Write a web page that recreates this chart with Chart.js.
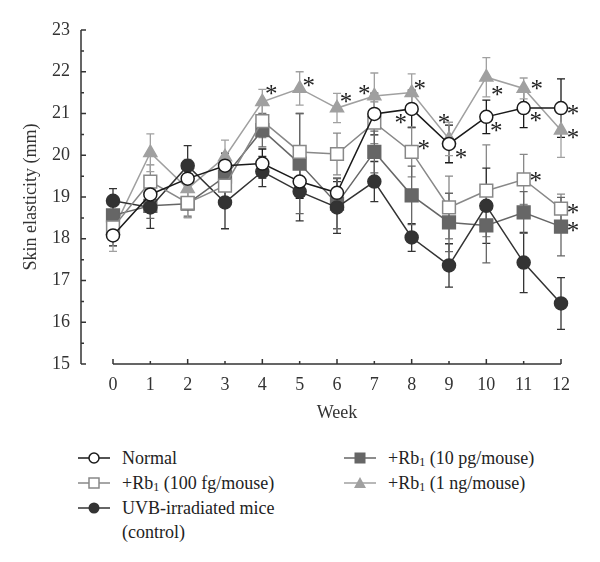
<!DOCTYPE html>
<html>
<head>
<meta charset="utf-8">
<script src="https://cdn.jsdelivr.net/npm/chart.js@4/dist/chart.umd.min.js"></script>
<style>
	body { margin: 0; background: #fff; }
	#wrap { position: relative; width: 600px; height: 562px; }
	#box { position: absolute; left: 0; top: 0; width: 600px; height: 430px; }
	.item { position: absolute; font-family: 'Liberation Serif', serif; font-size: 18px; color: #222; white-space: nowrap; line-height: 24px; }
	.item svg { position: absolute; left: -44px; top: 5px; }
	sub { font-size: 12px; vertical-align: -2px; line-height: 0; }
</style>
</head>
<body>
<div id="wrap">
	<div id="box"><canvas id="chart"></canvas></div>
	<div class="item" style="left:122px;top:446px;">
		<svg width="34" height="14"><line x1="0" y1="7" x2="32" y2="7" stroke="#1a1a1a" stroke-width="1.5"/><circle cx="16" cy="7" r="5" fill="#fff" stroke="#1a1a1a" stroke-width="1.5"/></svg>Normal</div>
	<div class="item" style="left:122px;top:471px;">
		<svg width="34" height="14"><line x1="0" y1="7" x2="32" y2="7" stroke="#888" stroke-width="1.5"/><rect x="11" y="2" width="10" height="10" fill="#fff" stroke="#888" stroke-width="1.5"/></svg>+Rb<sub>1</sub> (100 fg/mouse)</div>
	<div class="item" style="left:122px;top:496px;">
		<svg width="34" height="14"><line x1="0" y1="7" x2="32" y2="7" stroke="#333" stroke-width="1.5"/><circle cx="16" cy="7" r="5.5" fill="#333"/></svg>UVB-irradiated mice<br>(control)</div>
	<div class="item" style="left:388px;top:446px;">
		<svg width="34" height="14"><line x1="0" y1="7" x2="32" y2="7" stroke="#666" stroke-width="1.5"/><rect x="10.5" y="1.5" width="11" height="11" fill="#666"/></svg>+Rb<sub>1</sub> (10 pg/mouse)</div>
	<div class="item" style="left:388px;top:471px;">
		<svg width="34" height="14"><line x1="0" y1="7" x2="32" y2="7" stroke="#a0a0a0" stroke-width="1.5"/><polygon points="16,1 22,12 10,12" fill="#a0a0a0"/></svg>+Rb<sub>1</sub> (1 ng/mouse)</div>
</div>
<script>
const weeks = [0, 1, 2, 3, 4, 5, 6, 7, 8, 9, 10, 11, 12];
const yTicks = [15, 16, 17, 18, 19, 20, 21, 22, 23];

const normal = [18.08, 19.06, 19.44, 19.75, 19.80, 19.37, 19.10, 20.99, 21.11, 20.27, 20.92, 21.13, 21.13];
const normalErr = [0.25, 0.35, 0.3, 0.3, 0.35, 0.4, 0.35, 0.5, 0.45, 0.45, 0.4, 0.47, 0.7];

const rb100fg = [18.27, 19.37, 18.86, 19.27, 20.82, 20.08, 20.03, 20.78, 20.08, 18.75, 19.15, 19.42, 18.72];
const rb100fgErr = [0.3, 0.4, 0.35, 0.35, 0.4, 0.92, 0.5, 0.5, 0.6, 0.75, 1.1, 0.6, 0.35];

const control = [18.91, 18.75, 19.75, 18.87, 19.61, 19.13, 18.75, 19.37, 18.03, 17.36, 18.79, 17.43, 16.45];
const controlErr = [0.29, 0.5, 0.48, 0.63, 0.36, 0.7, 0.62, 0.48, 0.33, 0.52, 0.9, 0.72, 0.62];

const rb10pg = [18.56, 18.79, 18.84, 19.49, 20.60, 19.80, 18.84, 20.08, 19.04, 18.39, 18.32, 18.63, 18.29];
const rb10pgErr = [0.25, 0.3, 0.3, 0.3, 0.4, 1.2, 0.6, 0.5, 0.7, 0.7, 0.9, 0.5, 0.7];

const rb1ng = [18.20, 20.06, 19.20, 19.96, 21.28, 21.60, 21.13, 21.42, 21.50, 20.39, 21.87, 21.60, 20.60];
const rb1ngErr = [0.5, 0.45, 0.7, 0.4, 0.3, 0.4, 0.35, 0.55, 0.45, 0.4, 0.47, 0.25, 0.65];

// weeks marked with * (p < 0.05), per series
const starsNormal = [8, 9, 10, 11, 12];
const stars100fg = [8, 11, 12];
const stars10pg = [12];
const stars1ng = [4, 5, 6, 7, 8, 9, 10, 11, 12];

// where each * sits relative to its point (px)
const starOffset = {
	normal: { 8: [-11, 10], 9: [12, 9], 10: [10, 10], 11: [12, 8], 12: [12, 1] },
	rb100fg: { 8: [12, -7], 11: [12, -3], 12: [12, 0] },
	rb10pg: { 12: [12, 0] },
	rb1ng: { 4: [9, -12], 5: [9, -7], 6: [9, -11], 7: [-10, -7], 8: [8, -8], 9: [-5, -21], 10: [11, 13], 11: [13, -4], 12: [12, 3] },
};

const serif = "'Liberation Serif', 'Times New Roman', serif";

function series(key, label, values, errors, stars, color, fill, style, radius) {
	return {
		key,
		label,
		data: values.map((v, i) => ({ x: weeks[i], y: v })),
		errors,
		stars,
		borderColor: color,
		backgroundColor: fill,
		pointBackgroundColor: fill,
		pointBorderColor: color,
		pointStyle: style,
		pointRadius: radius,
		pointBorderWidth: 1.5,
		borderWidth: 1.5,
		tension: 0,
		clip: false,
	};
}

const errorBars = {
	id: 'errorBars',
	beforeDatasetsDraw(chart) {
		const { ctx, scales: { x, y } } = chart;
		chart.data.datasets.forEach((ds) => {
			ctx.save();
			ctx.strokeStyle = ds.borderColor;
			ctx.lineWidth = 1.3;
			ds.data.forEach((p, j) => {
				const px = x.getPixelForValue(p.x);
				const top = y.getPixelForValue(p.y + ds.errors[j]);
				const bot = y.getPixelForValue(p.y - ds.errors[j]);
				ctx.beginPath();
				ctx.moveTo(px, top); ctx.lineTo(px, bot);
				ctx.moveTo(px - 4, top); ctx.lineTo(px + 4, top);
				ctx.moveTo(px - 4, bot); ctx.lineTo(px + 4, bot);
				ctx.stroke();
			});
			ctx.restore();
		});
	},
	afterDatasetsDraw(chart) {
		const { ctx, scales: { x, y } } = chart;
		ctx.save();
		ctx.fillStyle = '#222';
		ctx.font = '25px ' + serif;
		ctx.textAlign = 'center';
		ctx.textBaseline = 'middle';
		chart.data.datasets.forEach((ds) => {
			ds.stars.forEach((w) => {
				const p = ds.data[weeks.indexOf(w)];
				const [dx, dy] = starOffset[ds.key][w];
				ctx.fillText('*', x.getPixelForValue(p.x) + dx, y.getPixelForValue(p.y) + dy + 6);
			});
		});
		ctx.restore();
	},
};

// detached axes with inward ticks, like the original figure
const axesLines = {
	id: 'axesLines',
	afterDraw(chart) {
		const { ctx, scales: { x, y } } = chart;
		const ax = x.getPixelForValue(0) - 32;
		const ay = y.getPixelForValue(15);
		ctx.save();
		ctx.strokeStyle = '#333';
		ctx.lineWidth = 1.5;
		ctx.beginPath();
		ctx.moveTo(ax, y.getPixelForValue(23));
		ctx.lineTo(ax, ay);
		for (let v = 15; v <= 23; v += 0.5) {
			const py = y.getPixelForValue(v);
			ctx.moveTo(ax, py);
			ctx.lineTo(ax + (v % 1 === 0 ? 5 : 3), py);
		}
		ctx.moveTo(x.getPixelForValue(0), ay);
		ctx.lineTo(x.getPixelForValue(12), ay);
		weeks.forEach((w) => {
			const px = x.getPixelForValue(w);
			ctx.moveTo(px, ay);
			ctx.lineTo(px, ay - (w % 2 === 0 ? 5 : 3));
		});
		ctx.stroke();
		ctx.restore();
	},
};

new Chart(document.getElementById('chart'), {
	type: 'line',
	data: {
		datasets: [
			series('normal', 'Normal', normal, normalErr, starsNormal, '#1a1a1a', '#fff', 'circle', 6.5),
			series('rb100fg', '+Rb1 (100 fg/mouse)', rb100fg, rb100fgErr, stars100fg, '#888', '#fff', 'rect', 9),
			series('control', 'UVB-irradiated mice (control)', control, controlErr, [], '#333', '#333', 'circle', 6.5),
			series('rb10pg', '+Rb1 (10 pg/mouse)', rb10pg, rb10pgErr, stars10pg, '#666', '#666', 'rect', 9),
			series('rb1ng', '+Rb1 (1 ng/mouse)', rb1ng, rb1ngErr, stars1ng, '#a0a0a0', '#a0a0a0', 'triangle', 7.5),
		],
	},
	options: {
		responsive: true,
		maintainAspectRatio: false,
		animation: false,
		layout: { padding: { top: 30, right: 39, left: 0, bottom: 0 } },
		plugins: { legend: { display: false }, tooltip: { enabled: false } },
		scales: {
			x: {
				type: 'linear',
				min: 0,
				max: 12,
				afterFit: (s) => { s.height = 66; s.paddingLeft = 0; s.paddingRight = 0; },
				afterBuildTicks: (s) => { s.ticks = weeks.map((v) => ({ value: v })); },
				grid: { display: false, drawTicks: false },
				border: { display: false },
				ticks: { color: '#333', padding: 10, font: { family: serif, size: 18 } },
				title: { display: true, text: 'Week', color: '#333', padding: { top: 0, bottom: 6 }, font: { family: serif, size: 18 } },
			},
			y: {
				min: 15,
				max: 23,
				afterFit: (s) => { s.width = 113; s.paddingTop = 0; s.paddingBottom = 0; },
				afterBuildTicks: (s) => { s.ticks = yTicks.map((v) => ({ value: v })); },
				grid: { display: false, drawTicks: false },
				border: { display: false },
				ticks: { color: '#333', padding: 43, font: { family: serif, size: 18 } },
				title: { display: true, text: 'Skin elasticity (mm)', color: '#333', padding: { top: 20, bottom: 0 }, font: { family: serif, size: 18 } },
			},
		},
	},
	plugins: [errorBars, axesLines],
});
</script>
</body>
</html>
